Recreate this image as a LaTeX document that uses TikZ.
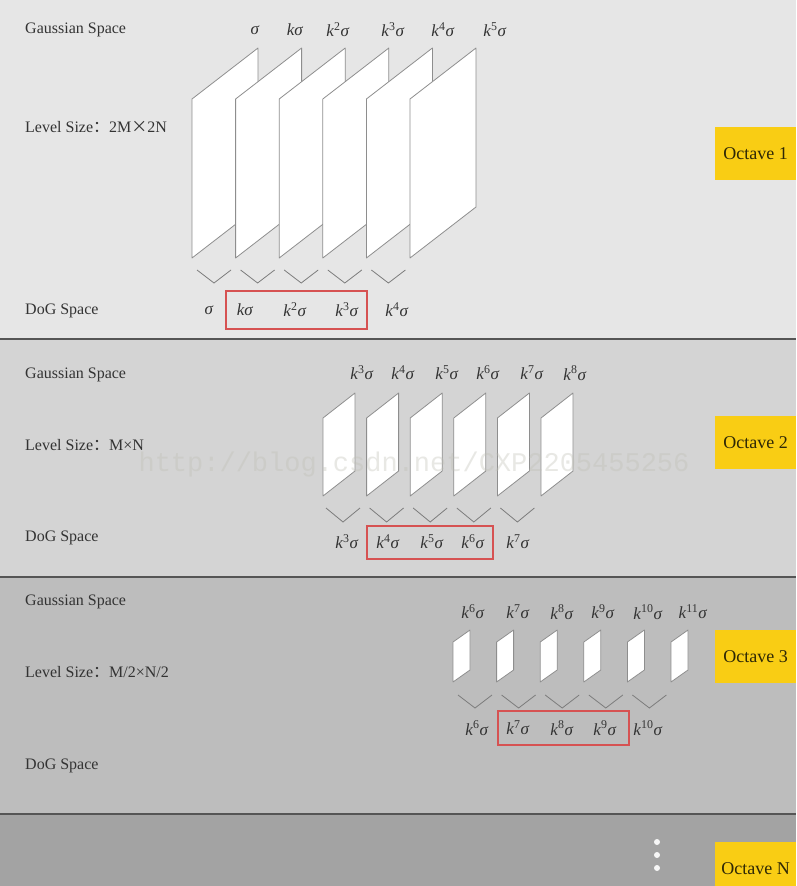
\documentclass[tikz,border=0pt]{standalone}
\usepackage{fontspec}
\setmainfont{Liberation Serif}
\newfontfamily\cjkfont{Noto Sans CJK SC}
\newfontfamily\wmfont{Liberation Mono}
\usepackage{tikz}
\usetikzlibrary{positioning}

\definecolor{bandA}{HTML}{E6E6E6}
\definecolor{bandB}{HTML}{D4D4D4}
\definecolor{bandC}{HTML}{BDBDBD}
\definecolor{bandD}{HTML}{A3A3A3}
\definecolor{sepgray}{HTML}{555555}
\definecolor{planegray}{HTML}{8E8E8E}
\definecolor{chevgray}{HTML}{7C7C7C}
\definecolor{boxred}{HTML}{D65252}
\definecolor{octyellow}{HTML}{F9CD14}
\definecolor{octtext}{HTML}{2E2806}
\definecolor{lbltext}{HTML}{333333}
\definecolor{sigtext}{HTML}{333333}
\definecolor{wmgray}{HTML}{BEBEB4}

\newcommand{\ksig}[1]{\textit{k}\textsuperscript{#1}\textit{σ}}

\begin{document}
\begin{tikzpicture}[x=1pt,y=-1pt,
		plane/.style={draw=planegray, fill=white, line width=0.8pt, line join=round},
		chev/.style={draw=chevgray, line width=0.8pt},
		redbox/.style={draw=boxred, line width=1.2pt},
		sepline/.style={draw=sepgray, line width=2pt},
		octbox/.style={fill=octyellow, text=octtext, minimum width=81pt, minimum height=53pt,
			inner sep=0pt, font=\fontsize{18}{20}\selectfont},
		spacelbl/.style={anchor=west, text=lbltext, inner sep=0pt, font=\fontsize{16}{18}\selectfont},
		sig/.style={text=sigtext, inner sep=0pt, font=\fontsize{17}{19}\selectfont}]
	\clip (0,0) rectangle (796,886);
	\useasboundingbox (0,0) rectangle (796,886);

	% bands
	\fill[bandA] (0,0) rectangle (796,339);
	\fill[bandB] (0,339) rectangle (796,577);
	\fill[bandC] (0,577) rectangle (796,814);
	\fill[bandD] (0,814) rectangle (796,886);
	\draw[sepline] (0,339) -- (796,339);
	\draw[sepline] (0,577) -- (796,577);
	\draw[sepline] (0,814) -- (796,814);

	% octave 1
	\node[spacelbl] (gs1) at (25,30) {Gaussian Space};
	\node[spacelbl] (ls1) at (25,127) {Level Size{\cjkfont ：}2M{\cjkfont ×}2N};
	\node[spacelbl] (ds1) at (25,311) {DoG Space};
	\foreach \i in {0,...,5}
		\filldraw[plane] ({192+43.6*\i},258) -- ++(0,-159) -- ++(66,-51) -- ++(0,159) -- cycle;
	\foreach \i in {0,...,4}
		\draw[chev] ({197+43.6*\i},270) -- ++(17,13) -- ++(17,-13);
	\foreach \x/\t [count=\n] in {255/\textit{σ}, 295/\textit{kσ}, 338/\ksig{2}, 393/\ksig{3}, 443/\ksig{4}, 495/\ksig{5}}
		\node[sig] (g1-\n) at (\x,30) {\t};
	\foreach \x/\t [count=\n] in {209/\textit{σ}, 245/\textit{kσ}, 295/\ksig{2}, 347/\ksig{3}, 397/\ksig{4}}
		\node[sig] (d1-\n) at (\x,310) {\t};
	\draw[redbox] (226,291) rectangle (367,329);
	\node[octbox] (oct1) at (755.5,153.5) {Octave 1};

	% octave 2
	\node[spacelbl] (gs2) at (25,375) {Gaussian Space};
	\node[spacelbl] (ls2) at (25,445) {Level Size{\cjkfont ：}M×N};
	\node[spacelbl] (ds2) at (25,538) {DoG Space};
	\foreach \i in {0,...,5}
		\filldraw[plane] ({323+43.6*\i},496) -- ++(0,-78) -- ++(32,-25) -- ++(0,78) -- cycle;
	\foreach \i in {0,...,4}
		\draw[chev] ({326+43.6*\i},508) -- ++(17,14) -- ++(17,-14);
	\foreach \x/\t [count=\n] in {362/\ksig{3}, 403/\ksig{4}, 447/\ksig{5}, 488/\ksig{6}, 532/\ksig{7}, 575/\ksig{8}}
		\node[sig] (g2-\n) at (\x,373) {\t};
	\foreach \x/\t [count=\n] in {347/\ksig{3}, 388/\ksig{4}, 432/\ksig{5}, 473/\ksig{6}, 518/\ksig{7}}
		\node[sig] (d2-\n) at (\x,542) {\t};
	\draw[redbox] (367,526) rectangle (493,559);
	\node[octbox] (oct2) at (755.5,442.5) {Octave 2};
	\node[text=wmgray, opacity=0.35, inner sep=0pt, font=\wmfont\fontsize{27}{30}\selectfont] (wm) at (414,465) {http://blog.csdn.net/CXP2205455256};

	% octave 3
	\node[spacelbl] (gs3) at (25,602) {Gaussian Space};
	\node[spacelbl] (ls3) at (25,672) {Level Size{\cjkfont ：}M/2×N/2};
	\node[spacelbl] (ds3) at (25,766) {DoG Space};
	\foreach \i in {0,...,5}
		\filldraw[plane] ({453+43.6*\i},682) -- ++(0,-40) -- ++(17,-12) -- ++(0,40) -- cycle;
	\foreach \i in {0,...,4}
		\draw[chev] ({458+43.6*\i},695) -- ++(17,13) -- ++(17,-13);
	\foreach \x/\t [count=\n] in {473/\ksig{6}, 518/\ksig{7}, 562/\ksig{8}, 603/\ksig{9}, 648/\ksig{10}, 693/\ksig{11}}
		\node[sig] (g3-\n) at (\x,612) {\t};
	\foreach \x/\t [count=\n] in {477/\ksig{6}, 518/\ksig{7}, 562/\ksig{8}, 605/\ksig{9}, 648/\ksig{10}}
		\node[sig] (d3-\n) at (\x,728) {\t};
	\draw[redbox] (498,711) rectangle (629,745);
	\node[octbox] (oct3) at (755.5,656.5) {Octave 3};

	% octave N
	\foreach \y in {842,855,868}
		\fill[white!94!gray] (657,\y) circle[radius=3pt];
	\node[octbox] (octN) at (755.5,868.5) {Octave N};
\end{tikzpicture}
\end{document}
